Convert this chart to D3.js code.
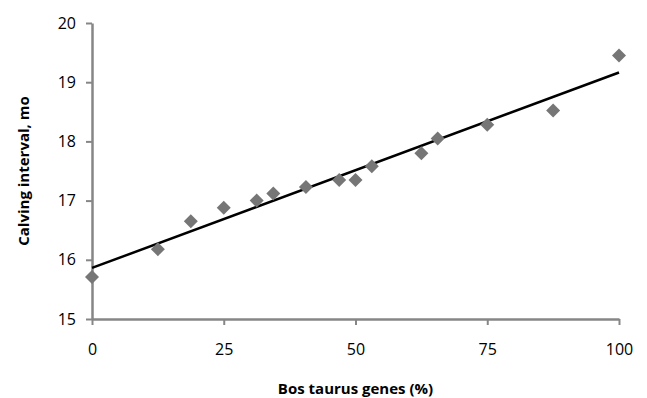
<!DOCTYPE html>
<html>
<head>
<meta charset="utf-8">
<script src="https://cdn.jsdelivr.net/npm/d3@7"></script>
<style>
  body { margin: 0; background: #fff; }
  text { font-family: "Open Sans", sans-serif; }
</style>
</head>
<body>
<svg id="chart" width="647" height="398"></svg>
<script>
// Bos taurus genes (%) vs calving interval (mo)
var taurusPct = [0, 12.5, 18.75, 25, 31.25, 34.4, 40.6, 46.9, 50, 53.1, 62.5, 65.6, 75, 87.5, 100];
var calvingInt = [15.71, 16.18, 16.65, 16.88, 17.0, 17.12, 17.23, 17.35, 17.35, 17.58, 17.8, 18.05, 18.28, 18.52, 19.45];
var xTicks = [0, 25, 50, 75, 100];
var yTicks = [15, 16, 17, 18, 19, 20];

var margin = {top: 23, right: 28, bottom: 79, left: 92},
    width = 647 - margin.left - margin.right,
    height = 398 - margin.top - margin.bottom;

var svg = d3.select("#chart")
  .append("g")
    .attr("transform", "translate(" + margin.left + "," + margin.top + ")");

var x = d3.scaleLinear().domain([0, 100]).range([0, width]);
var y = d3.scaleLinear().domain([15, 20]).range([height, 0]);

// axes
var xAxis = svg.append("g")
    .attr("transform", "translate(0," + height + ")")
    .call(d3.axisBottom(x).tickValues(xTicks).tickFormat(d3.format("d"))
      .tickSize(6).tickPadding(19).tickSizeOuter(0));
var yAxis = svg.append("g")
    .call(d3.axisLeft(y).tickValues(yTicks).tickFormat(d3.format("d"))
      .tickSize(6).tickPadding(10).tickSizeOuter(0));

[xAxis, yAxis].forEach(function(a) {
  a.select(".domain").attr("stroke", "#868686").attr("stroke-width", 2.5);
  a.selectAll(".tick line").attr("stroke", "#868686").attr("stroke-width", 2);
  a.selectAll(".tick text").attr("fill", "#000").style("font-size", "16px")
    .style("font-family", "'Open Sans', sans-serif");
});

// linear trendline (least squares)
var mx = d3.mean(taurusPct), my = d3.mean(calvingInt);
var sxy = d3.sum(taurusPct, function(v, i) { return (v - mx) * (calvingInt[i] - my); });
var sxx = d3.sum(taurusPct, function(v) { return (v - mx) * (v - mx); });
var slope = sxy / sxx, icpt = my - slope * mx;

svg.append("line")
    .attr("x1", x(0)).attr("y1", y(icpt))
    .attr("x2", x(100)).attr("y2", y(icpt + slope * 100))
    .attr("stroke", "#000").attr("stroke-width", 2.5);

// points
var diamond = d3.symbol().type(d3.symbolSquare).size(98);
svg.selectAll("path.pt")
  .data(taurusPct)
  .enter()
  .append("path")
    .attr("class", "pt")
    .attr("d", diamond)
    .attr("transform", function(d, i) { return "translate(" + x(d) + "," + y(calvingInt[i]) + ") rotate(45)"; })
    .attr("fill", "#767676");

// titles
svg.append("text")
    .attr("x", width / 2).attr("y", height + 75)
    .attr("text-anchor", "middle")
    .style("font-size", "15px").style("font-weight", "bold")
    .text("Bos taurus genes (%)");

svg.append("text")
    .attr("transform", "translate(-63," + (height / 2) + ") rotate(-90)")
    .attr("text-anchor", "middle")
    .style("font-size", "15px").style("font-weight", "bold")
    .text("Calving interval, mo");
</script>
</body>
</html>
